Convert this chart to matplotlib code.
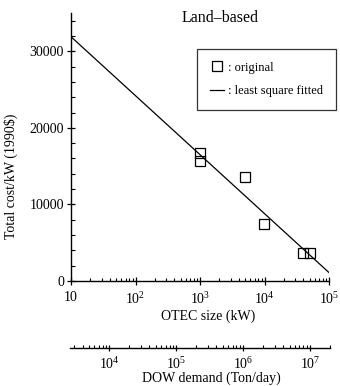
import math
import matplotlib.pyplot as plt
from matplotlib.ticker import LogLocator, FuncFormatter, MultipleLocator, NullFormatter
from matplotlib.lines import Line2D

plt.rcParams['font.family'] = ['Liberation Serif', 'DejaVu Serif']
plt.rcParams['mathtext.fontset'] = 'custom'
plt.rcParams['mathtext.rm'] = 'Liberation Serif'
plt.rcParams['mathtext.it'] = 'Liberation Serif:italic'

# original data (OTEC size in kW, total cost per kW in 1990 $)
otec_size = [1000, 1000, 5000, 9800, 39000, 50500]
total_cost = [16700, 15700, 13600, 7400, 3650, 3650]

# least square fitted line, read at the ends of the axis
fit_size = [10, 100000]
fit_cost = [31900, 1100]

title = 'Land\u2013based'
legend_labels = [': original', ': least square fitted']


def log_label(v, pos):
    if v == 10:
        return '10'
    return r'$10^{%d}$' % round(math.log10(v))


fig = plt.figure(figsize=(3.4, 3.86), dpi=100)
ax = fig.add_axes([71 / 340, 105 / 386, 258 / 340, 268 / 386])

ax.plot(fit_size, fit_cost, color='black', lw=0.9)
ax.plot(otec_size, total_cost, 's', ms=7.5, mfc='none', mec='black', mew=0.9)

ax.set_xscale('log')
ax.set_xlim(10, 1e5)
ax.set_ylim(0, 35000)
ax.spines['top'].set_visible(False)
ax.spines['right'].set_visible(False)
for s in ['left', 'bottom']:
    ax.spines[s].set_linewidth(1.0)

ax.xaxis.set_major_locator(LogLocator(base=10, numticks=10))
ax.xaxis.set_minor_locator(LogLocator(base=10, subs=range(2, 10), numticks=10))
ax.xaxis.set_major_formatter(FuncFormatter(log_label))
ax.xaxis.set_minor_formatter(NullFormatter())
ax.yaxis.set_major_locator(MultipleLocator(10000))
ax.yaxis.set_minor_locator(MultipleLocator(2000))
ax.tick_params(axis='both', which='major', direction='inout', length=6, width=0.9, labelsize=10, pad=2)
ax.tick_params(axis='both', which='minor', direction='in', length=3, width=0.8)
ax.tick_params(axis='x', which='minor', length=2.5)
ax.tick_params(axis='x', which='major', pad=4)

ax.set_xlabel('OTEC size (kW)', fontsize=10)
ax.xaxis.set_label_coords(0.531, -0.105)
ax.set_ylabel('Total cost/kW (1990$)', fontsize=10)
ax.yaxis.set_label_coords(-0.205, 0.39)

fig.text(220 / 340, 1 - 18 / 386, title, ha='center', va='center', fontsize=11.5)

handles = [Line2D([], [], marker='s', ls='none', ms=7.5, mfc='none', mec='black', mew=0.9),
           Line2D([], [], color='black', lw=0.9)]
leg = fig.legend(handles, legend_labels, loc='upper right', bbox_to_anchor=(336 / 340, 1 - 49 / 386),
                 borderaxespad=0, fontsize=9, frameon=True, fancybox=False, handlelength=1.1,
                 handletextpad=0.4, borderpad=1.0, labelspacing=0.95)
leg.get_frame().set_edgecolor('black')
leg.get_frame().set_linewidth(0.9)

# secondary axis: DOW demand
dow_lim = [2600, 2.0e7]
ax2 = fig.add_axes([70 / 340, 38 / 386, 260 / 340, 0.0001])
ax2.set_xscale('log')
ax2.set_xlim(dow_lim)
ax2.set_yticks([])
for s in ['top', 'left', 'right']:
    ax2.spines[s].set_visible(False)
ax2.spines['bottom'].set_linewidth(1.0)
ax2.patch.set_visible(False)
ax2.xaxis.set_major_locator(LogLocator(base=10, numticks=10))
ax2.xaxis.set_minor_locator(LogLocator(base=10, subs=range(2, 10), numticks=10))
ax2.xaxis.set_major_formatter(FuncFormatter(log_label))
ax2.xaxis.set_minor_formatter(NullFormatter())
ax2.tick_params(axis='x', which='major', direction='inout', length=5, width=0.9, labelsize=10, pad=3)
ax2.tick_params(axis='x', which='minor', direction='in', length=2.5, width=0.8)
fig.text(211 / 340, 1 - 378 / 386, 'DOW demand (Ton/day)', ha='center', va='center', fontsize=10)

fig.savefig('out.png', dpi=100)
